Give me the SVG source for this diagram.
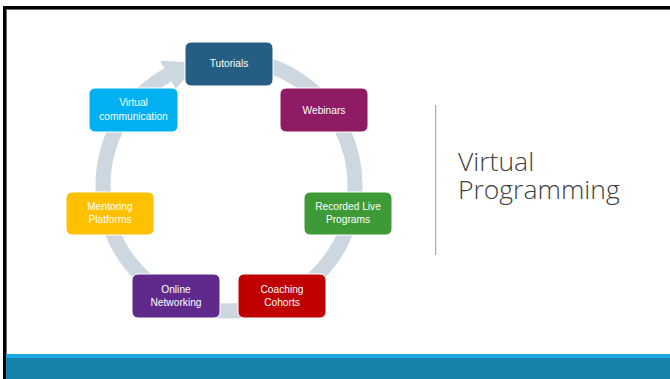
<svg xmlns="http://www.w3.org/2000/svg" width="670" height="379" viewBox="0 0 670 379">
  <style>
    .node rect { stroke: #ffffff; stroke-width: 1; }
    .node text { font-family: "Liberation Sans", Arial, sans-serif; font-size: 10.2px; fill: #ffffff; text-anchor: middle; }
    .title { font-family: "Open Sans", "Liberation Sans", sans-serif; font-weight: 300; font-size: 26.5px; fill: #404040; }
  </style>
  <rect x="0" y="0" width="670" height="379" fill="#ffffff"/>

  <!-- slide frame -->
  <rect x="3" y="6" width="667" height="3" fill="#000000"/>
  <rect x="6" y="9" width="664" height="1" fill="#6b6b6b"/>
  <rect x="3" y="6" width="3" height="373" fill="#000000"/>
  <rect x="6" y="9" width="1" height="345" fill="#6b6b6b"/>

  <!-- footer band -->
  <rect x="6" y="354" width="664" height="4" fill="#1ca9e1"/>
  <rect x="6" y="358" width="664" height="21" fill="#1783ac"/>

  <!-- cycle ring with arrowhead -->
  <g id="connectors">
    <path d="M250.9,60.9 A126,126 0 1,1 167.9,74.8" fill="none" stroke="#ccd7e0" stroke-width="15"/>
    <polygon points="160.2,60.8 198.5,62.7 175.7,88.8" fill="#ccd7e0"/>
  </g>

  <g id="tutorials" class="node">
    <rect x="185" y="42" width="88" height="44" rx="6" fill="#255e82"/>
    <text x="229" y="67">Tutorials</text>
  </g>
  <g id="webinars" class="node">
    <rect x="280" y="88" width="88" height="44" rx="6" fill="#8e1b63"/>
    <text x="324" y="113.5">Webinars</text>
  </g>
  <g id="recorded" class="node">
    <rect x="304" y="192" width="88" height="43" rx="6" fill="#3e9a37"/>
    <text x="348" y="210">Recorded Live</text>
    <text x="348" y="223.3">Programs</text>
  </g>
  <g id="coaching" class="node">
    <rect x="238" y="274" width="88" height="44" rx="6" fill="#c00000"/>
    <text x="282" y="292.6">Coaching</text>
    <text x="282" y="305.9">Cohorts</text>
  </g>
  <g id="networking" class="node">
    <rect x="132" y="274" width="88" height="44" rx="6" fill="#5f2a8c"/>
    <text x="176" y="292.6">Online</text>
    <text x="176" y="305.9">Networking</text>
  </g>
  <g id="mentoring" class="node">
    <rect x="66" y="192" width="88" height="43" rx="6" fill="#ffc000"/>
    <text x="110" y="210">Mentoring</text>
    <text x="110" y="223.3">Platforms</text>
  </g>
  <g id="virtual" class="node">
    <rect x="89" y="88" width="89" height="44" rx="6" fill="#00b0f0"/>
    <text x="133.5" y="106.3">Virtual</text>
    <text x="133.5" y="119.6">communication</text>
  </g>

  <!-- title -->
  <line x1="435.7" y1="105" x2="435.7" y2="255" stroke="#9a9a9a" stroke-width="1"/>
  <text class="title" x="458" y="171">Virtual</text>
  <text class="title" x="458" y="199">Programming</text>
</svg>
